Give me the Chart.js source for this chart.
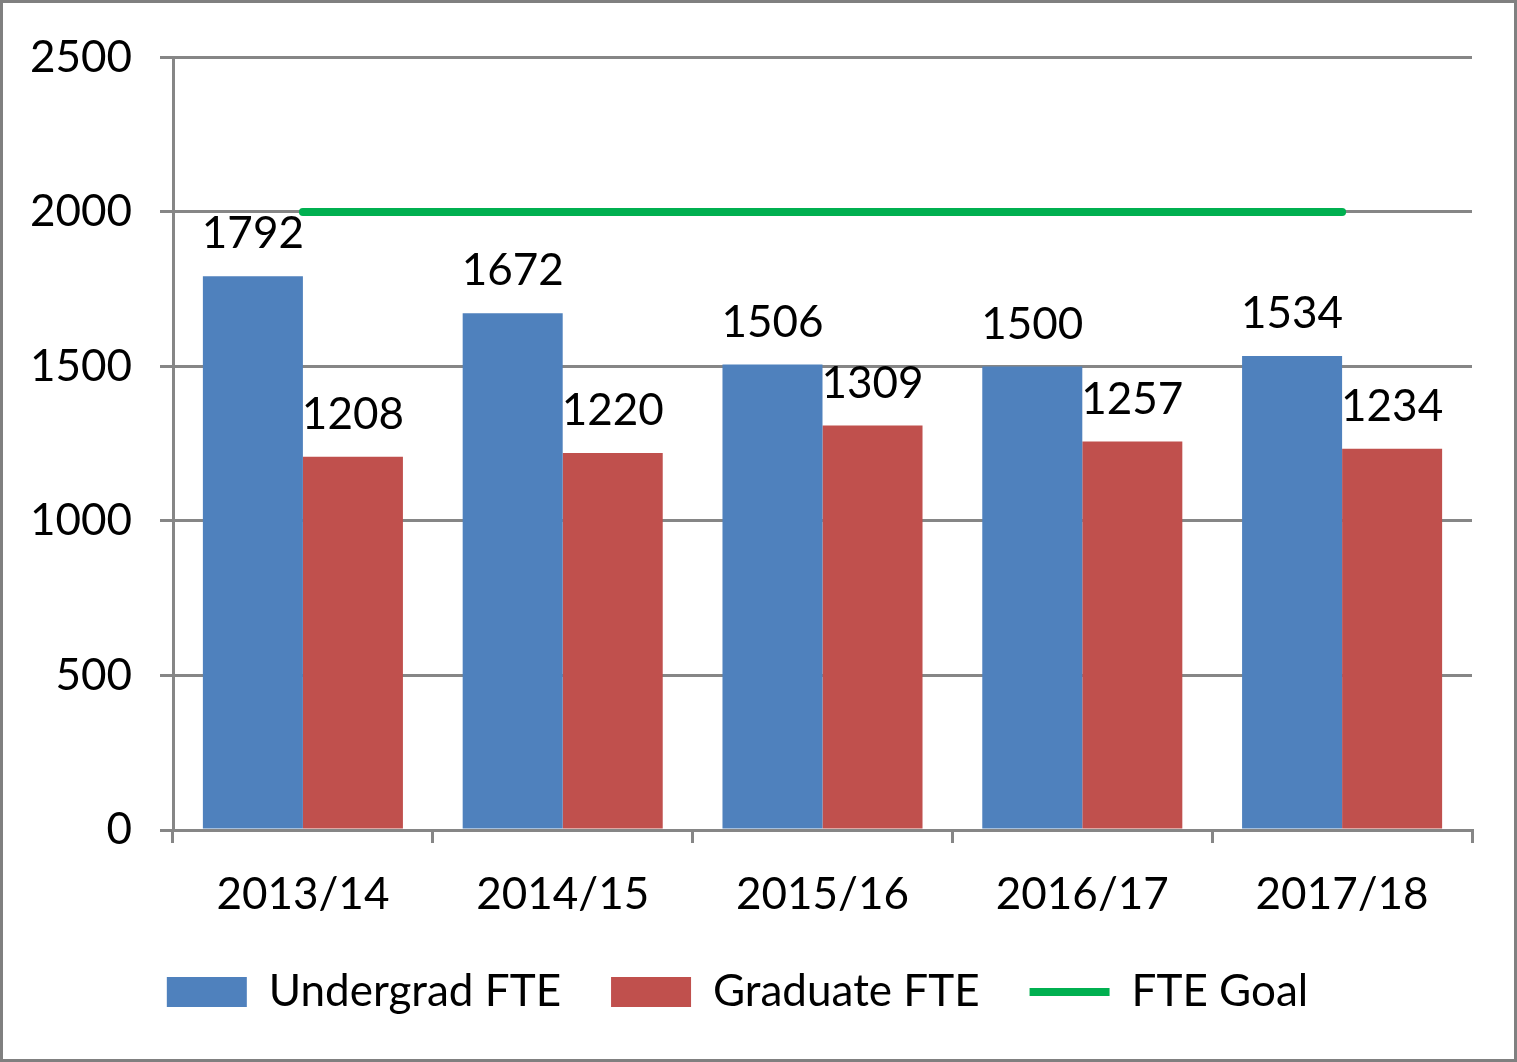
<!DOCTYPE html>
<html>
<head>
<meta charset="utf-8">
<script src="https://cdn.jsdelivr.net/npm/chart.js@4/dist/chart.umd.min.js"></script>
<style>
html, body { margin: 0; padding: 0; background: #fff; }
#wrap { width: 1517px; height: 1062px; box-sizing: border-box; border: 3px solid #808080; position: relative; }
</style>
</head>
<body>
<div id="wrap"><canvas id="fte_chart"></canvas></div>
<script>
var years = ['2013/14', '2014/15', '2015/16', '2016/17', '2017/18'];
var undergrad = [1792, 1672, 1506, 1500, 1534];
var graduate = [1208, 1220, 1309, 1257, 1234];
var goal = [2000, 2000, 2000, 2000, 2000];
var yTicks = [0, 500, 1000, 1500, 2000, 2500];

var font = 'Lato';
var gridColor = '#868686';

// value labels above the bars
var barLabels = {
    id: 'barLabels',
    afterDatasetsDraw: function(chart) {
        var ctx = chart.ctx;
        ctx.save();
        ctx.font = '44px ' + font;
        ctx.fillStyle = '#000';
        ctx.textAlign = 'center';
        ctx.textBaseline = 'bottom';
        chart.data.datasets.forEach(function(ds, i) {
            if (ds.type === 'line') return;
            chart.getDatasetMeta(i).data.forEach(function(bar, j) {
                ctx.fillText(ds.data[j], bar.x, bar.y - 20);
            });
        });
        ctx.restore();
    }
};

var barData = {
    labels: years,
    datasets: [
        {
            type: 'line',
            label: 'FTE Goal',
            data: goal,
            borderColor: '#00B050',
            backgroundColor: '#00B050',
            borderWidth: 8,
            borderCapStyle: 'round',
            pointRadius: 0,
            pointStyle: 'line',
            order: 0
        },
        {
            label: 'Undergrad FTE',
            backgroundColor: '#4F81BD',
            data: undergrad,
            pointStyle: 'rect',
            order: 1
        },
        {
            label: 'Graduate FTE',
            backgroundColor: '#C0504D',
            data: graduate,
            pointStyle: 'rect',
            order: 1
        }
    ]
};

var barOptions = {
    responsive: true,
    maintainAspectRatio: false,
    animation: false,
    layout: { padding: { top: 48, right: 42, left: 0, bottom: 35 } },
    datasets: { bar: { categoryPercentage: 0.77, barPercentage: 1.0 } },
    plugins: {
        tooltip: { enabled: false },
        legend: {
            position: 'bottom',
            labels: {
                font: { family: font, size: 44 },
                color: '#000',
                usePointStyle: true,
                pointStyleWidth: 80,
                boxHeight: 30,
                padding: 50,
                sort: function(a, b) { return (a.datasetIndex || 3) - (b.datasetIndex || 3); }
            }
        }
    },
    scales: {
        x: {
            offset: true,
            grid: { offset: true, drawOnChartArea: false, color: gridColor, lineWidth: 3, tickLength: 13 },
            border: { color: gridColor, width: 3 },
            ticks: { font: { family: font, size: 44 }, color: '#000', padding: 25 },
            afterFit: function(scale) { scale.height = 90; }
        },
        y: {
            min: 0,
            max: 2500,
            afterBuildTicks: function(scale) { scale.ticks = yTicks.map(function(v) { return { value: v }; }); },
            grid: { color: gridColor, lineWidth: 3, tickLength: 13 },
            border: { color: gridColor, width: 3 },
            ticks: {
                font: { family: font, size: 44 }, color: '#000', padding: 28,
                callback: function(v) { return String(v); }
            },
            afterFit: function(scale) { scale.width = 170; }
        }
    }
};

var ctx = document.getElementById('fte_chart').getContext('2d');
new Chart(ctx, { type: 'bar', data: barData, options: barOptions, plugins: [barLabels] });
</script>
</body>
</html>
